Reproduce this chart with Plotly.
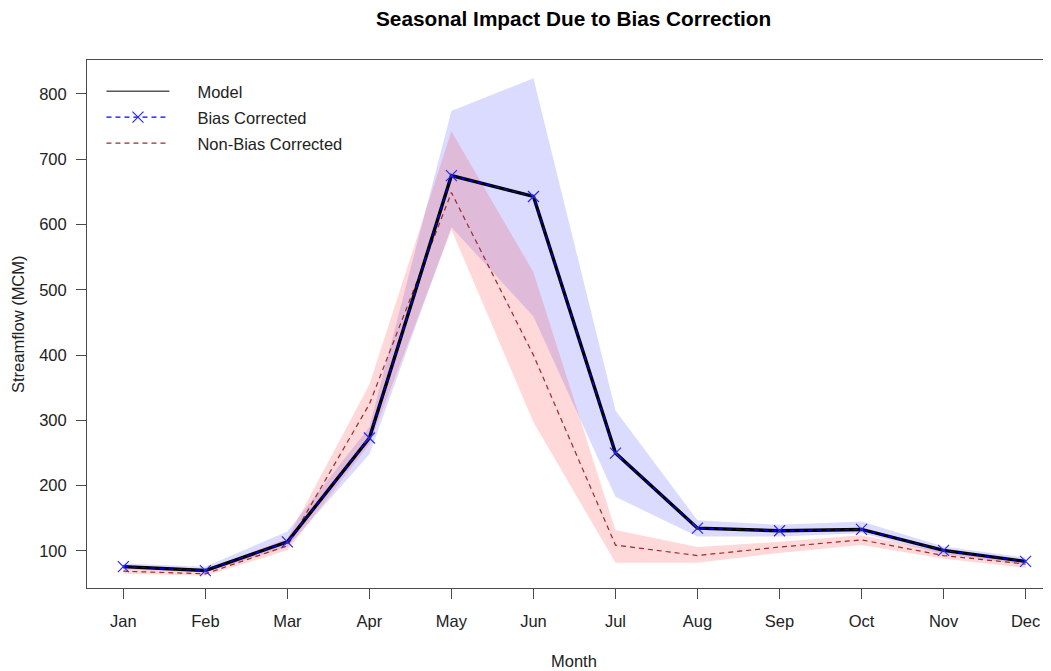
import plotly.graph_objects as go

months = ["Jan", "Feb", "Mar", "Apr", "May", "Jun", "Jul", "Aug", "Sep", "Oct", "Nov", "Dec"]
month_idx = list(range(1, 13))

model = [76, 70, 114, 273, 675, 643, 250, 135, 131, 133, 101, 84]
bias_corrected = [76, 70, 114, 273, 675, 643, 250, 135, 131, 133, 101, 84]
bias_upper = [81, 76, 130, 290, 774, 824, 315, 147, 140, 145, 107, 90]
bias_lower = [72, 67, 106, 248, 596, 459, 183, 122, 122, 127, 95, 79]

non_bias = [69, 65, 108, 325, 649, 400, 109, 93, 106, 117, 93, 80]
nonbias_upper = [74, 71, 119, 355, 743, 527, 132, 106, 114, 124, 99, 85]
nonbias_lower = [65, 62, 101, 263, 592, 297, 82, 82, 97, 109, 88, 74]

y_ticks = [100, 200, 300, 400, 500, 600, 700, 800]

FONT = "Liberation Sans, Arial, sans-serif"
TXT = "#222222"
AX = "#4a4a4a"
PAD = "\u00a0" * 5

fig = go.Figure()

# uncertainty bands
fig.add_trace(go.Scatter(
    x=month_idx + month_idx[::-1], y=bias_upper + bias_lower[::-1],
    fill="toself", fillcolor="rgba(0,0,255,0.14)", line=dict(width=0),
    mode="lines", showlegend=False, hoverinfo="skip"))
fig.add_trace(go.Scatter(
    x=month_idx + month_idx[::-1], y=nonbias_upper + nonbias_lower[::-1],
    fill="toself", fillcolor="rgba(255,0,0,0.15)", line=dict(width=0),
    mode="lines", showlegend=False, hoverinfo="skip"))

# non-bias corrected (dashed dark red)
fig.add_trace(go.Scatter(
    x=month_idx, y=non_bias, mode="lines", name=PAD + "Non-Bias Corrected",
    line=dict(color="#a02828", width=1.2, dash="5px,4px"),
    legendgroup="c", legendrank=3))

# model thick black
fig.add_trace(go.Scatter(
    x=month_idx, y=model, mode="lines", showlegend=False,
    line=dict(color="black", width=3.4)))
# legend entry for model (thin)
fig.add_trace(go.Scatter(
    x=[None], y=[None], mode="lines", name=PAD + "Model",
    line=dict(color="black", width=1), legendgroup="a", legendrank=1))

# bias corrected (blue dashed with x)
fig.add_trace(go.Scatter(
    x=month_idx, y=bias_corrected, mode="lines+markers", name=PAD + "Bias Corrected",
    line=dict(color="blue", width=1.2, dash="5px,4px"),
    marker=dict(symbol="x-thin", size=11, color="blue",
                line=dict(color="rgba(40,40,255,1)", width=1.2)),
    legendgroup="b", legendrank=2))

fig.update_layout(
    width=1043, height=663,
    margin=dict(l=79, r=0, t=52, b=83),
    paper_bgcolor="white", plot_bgcolor="white",
    font=dict(family=FONT, size=16.5, color=TXT),
    showlegend=True,
    legend=dict(x=0.015, y=0.9736, xanchor="left", yanchor="top",
                bgcolor="rgba(0,0,0,0)", borderwidth=0,
                font=dict(family=FONT, size=16.5, color=TXT),
                tracegroupgap=1.5, itemwidth=63, traceorder="grouped"),
    xaxis=dict(range=[0.557, 12.31], tickmode="array", tickvals=month_idx,
               ticktext=months, showgrid=False, zeroline=False,
               showline=True, mirror=True, linecolor=AX, linewidth=1,
               ticks="outside", ticklen=10, tickcolor=AX, tickwidth=1,
               ticklabelstandoff=8,
               tickfont=dict(family=FONT, size=16.5, color=TXT)),
    yaxis=dict(range=[43.3, 852], tickmode="array", tickvals=y_ticks,
               showgrid=False, zeroline=False,
               showline=True, mirror=False, linecolor=AX, linewidth=1,
               ticks="outside", ticklen=10, tickcolor=AX, tickwidth=1,
               ticklabelstandoff=6,
               tickfont=dict(family=FONT, size=16.5, color=TXT)),
    annotations=[
        dict(text="<b>Seasonal Impact Due to Bias Correction</b>", xref="paper", yref="paper",
             x=0.505, y=1.0795, xanchor="center", yanchor="middle", showarrow=False,
             font=dict(family=FONT, size=20.8, color="black")),
        dict(text="Month", xref="paper", yref="paper",
             x=0.505, y=-0.138, xanchor="center", yanchor="middle", showarrow=False,
             font=dict(family=FONT, size=16.5, color=TXT)),
        dict(text="Streamflow (MCM)", xref="paper", yref="paper", textangle=-90,
             x=-0.0716, y=0.5, xanchor="center", yanchor="middle", showarrow=False,
             font=dict(family=FONT, size=16.5, color=TXT)),
    ],
)

fig.write_html("out.html")
